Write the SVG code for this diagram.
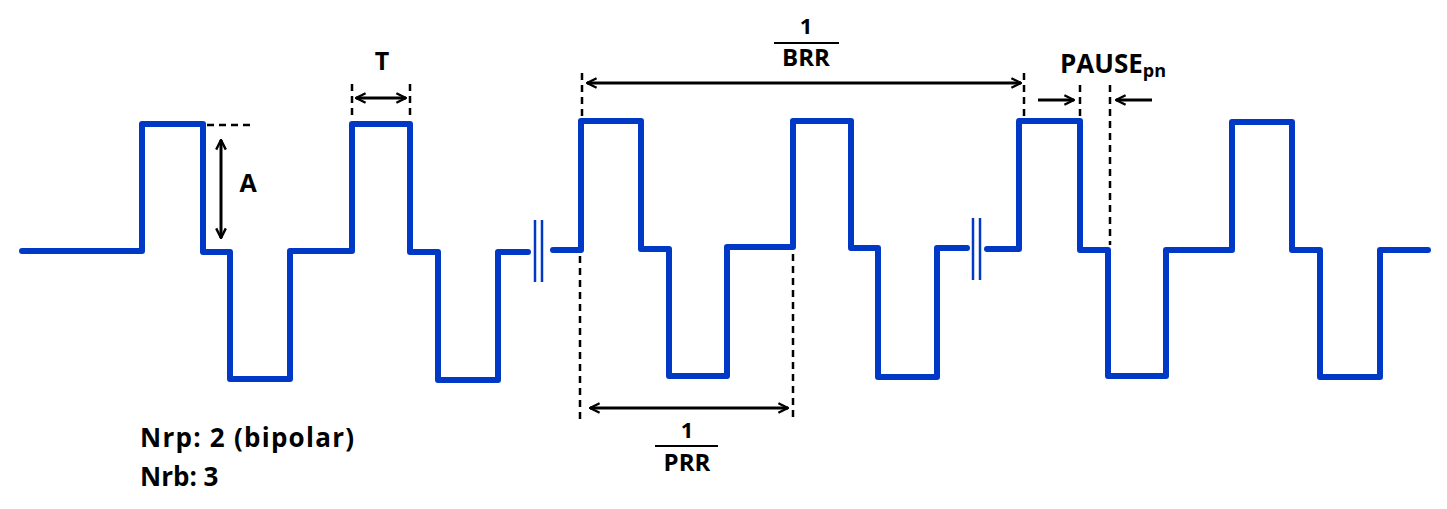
<svg xmlns="http://www.w3.org/2000/svg" width="1447" height="509" viewBox="0 0 1447 509">
<style>
.w{fill:none;stroke:#0039C6;stroke-width:6;stroke-linecap:round;stroke-linejoin:round}
.b{stroke:#0039C6;stroke-width:2.5}
.d{stroke:#000;stroke-width:2.5;stroke-dasharray:7,5;fill:none}
.a{stroke:#000;stroke-width:3;fill:none}
.t{font-family:"Open Sans","Liberation Sans",sans-serif;font-weight:bold;fill:#000}
</style>
<defs>
<marker id="ah" viewBox="0 0 10 10" refX="9" refY="5" markerWidth="4" markerHeight="4" orient="auto-start-reverse"><path d="M1,1 L9,5 L1,9" fill="none" stroke="#000" stroke-width="2"/></marker>
</defs>
<g id="waveform">
<path class="w" d="M22,251 H142 V124 H203 V252 H230 V379 H290 V251 H352 V124 H410 V252 H438 V380 H498 V252 H528"/>
<path class="w" d="M553,250 H581 V121 H641 V249 H669 V376 H727 V247 H793 V121 H851 V248 H878 V377 H937 V248 H967"/>
<path class="w" d="M987,249 H1019 V121 H1080 V250 H1108 V376 H1166 V250 H1232 V122 H1292 V250 H1320 V377 H1380 V250 H1428"/>
<line class="b" x1="535" y1="220" x2="535" y2="282"/><line class="b" x1="542" y1="220" x2="542" y2="282"/>
<line class="b" x1="973" y1="218" x2="973" y2="280"/><line class="b" x1="980" y1="218" x2="980" y2="280"/>
</g>
<g id="connectors">
<line class="d" x1="207" y1="125" x2="255" y2="125"/>
<line class="a" x1="221" y1="140" x2="221" y2="238" marker-start="url(#ah)" marker-end="url(#ah)"/>
<line class="d" x1="352" y1="84" x2="352" y2="120"/><line class="d" x1="410" y1="84" x2="410" y2="120"/>
<line class="a" x1="356" y1="98" x2="406" y2="98" marker-start="url(#ah)" marker-end="url(#ah)"/>
<line class="d" x1="582" y1="73" x2="582" y2="118"/><line class="d" x1="580" y1="256" x2="580" y2="422"/>
<line class="d" x1="1024" y1="73" x2="1024" y2="117"/>
<line class="a" x1="587" y1="83" x2="1021" y2="83" marker-start="url(#ah)" marker-end="url(#ah)"/>
<line class="d" x1="793" y1="254" x2="793" y2="422"/>
<line class="a" x1="590" y1="408" x2="788" y2="408" marker-start="url(#ah)" marker-end="url(#ah)"/>
<line class="d" x1="1080" y1="85" x2="1080" y2="117"/><line class="d" x1="1110" y1="85" x2="1110" y2="245"/>
<line class="a" x1="1038" y1="100" x2="1074" y2="100" marker-end="url(#ah)"/>
<line class="a" x1="1152" y1="100" x2="1116" y2="100" marker-end="url(#ah)"/>
<line stroke="#000" stroke-width="2" x1="774" y1="43" x2="839" y2="43"/>
<line stroke="#000" stroke-width="2" x1="655" y1="446" x2="718" y2="446"/>
</g>
<g id="labels" class="t">
<text x="248" y="192" font-size="25" text-anchor="middle">A</text>
<text x="382" y="70" font-size="25" text-anchor="middle">T</text>
<text x="806" y="34" font-size="22" text-anchor="middle">1</text>
<text x="806" y="66" font-size="24" text-anchor="middle">BRR</text>
<text x="687" y="438" font-size="22" text-anchor="middle">1</text>
<text x="687" y="471" font-size="24" text-anchor="middle">PRR</text>
<text x="1060" y="73" font-size="26">PAUSE<tspan font-size="18" dy="4">pn</tspan></text>
<text x="140" y="447" font-size="26" textLength="214">Nrp: 2 (bipolar)</text>
<text x="140" y="486" font-size="26">Nrb: 3</text>
</g>
</svg>
